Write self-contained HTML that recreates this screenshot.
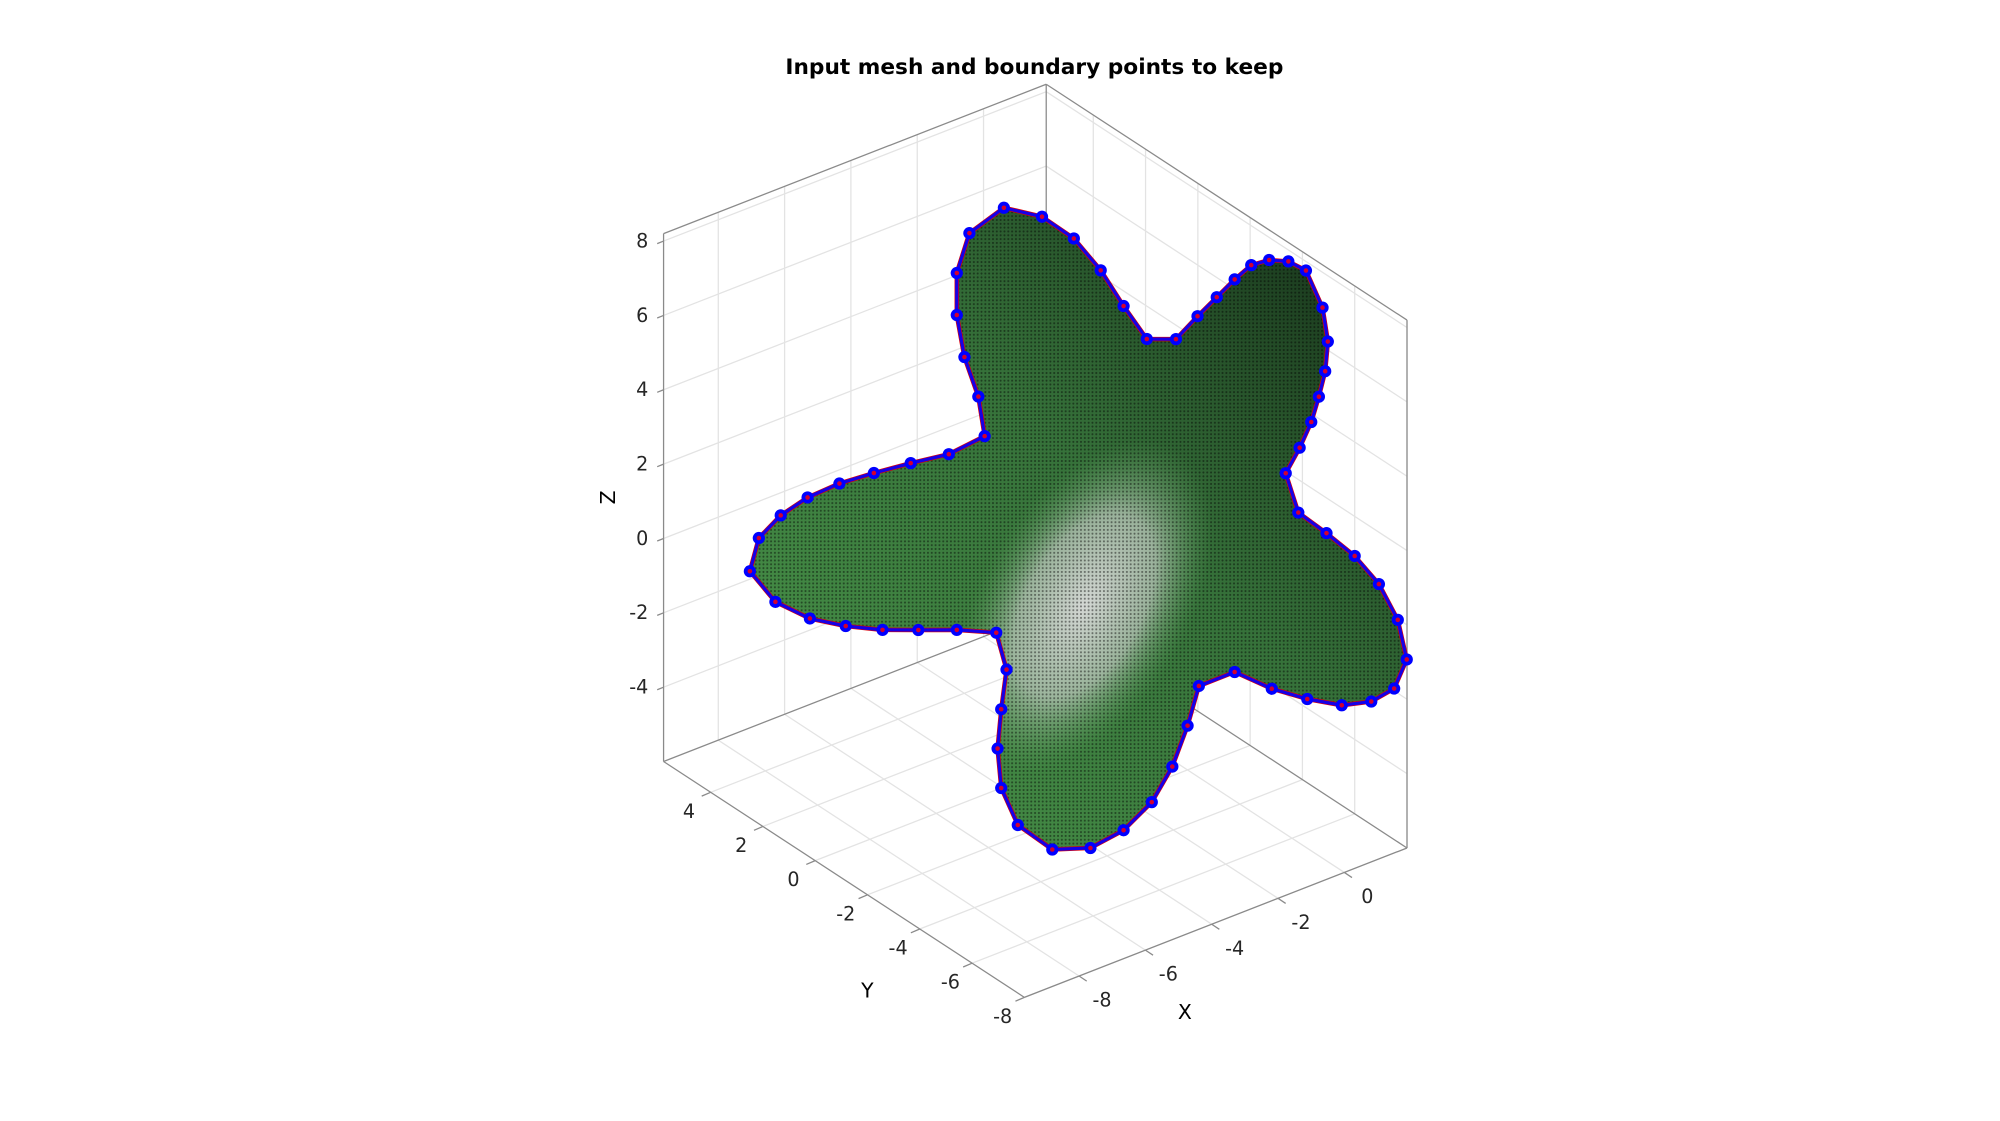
<!DOCTYPE html>
<html><head><meta charset="utf-8"><style>
html,body{margin:0;padding:0;background:#fff;}
svg{display:block;font-family:"DejaVu Sans","Liberation Sans",sans-serif;}
</style></head><body>
<svg id="chart" width="2000" height="1121" viewBox="0 0 1568 879" xmlns="http://www.w3.org/2000/svg">
<defs>
<linearGradient id="gfill" x1="1" y1="0" x2="0" y2="1">
<stop offset="0" stop-color="#132a16"/><stop offset="0.45" stop-color="#36723a"/><stop offset="1" stop-color="#4a964a"/>
</linearGradient>
<radialGradient id="gwhite" cx="850" cy="475" r="110" gradientUnits="userSpaceOnUse" gradientTransform="translate(850 475) rotate(30) scale(0.75 1.3) translate(-850 -475)">
<stop offset="0" stop-color="#dcdcdc" stop-opacity="0.95"/><stop offset="0.55" stop-color="#c4ccc4" stop-opacity="0.7"/><stop offset="1" stop-color="#5a9a5a" stop-opacity="0"/>
</radialGradient>
<pattern id="mesh" width="3" height="3" patternUnits="userSpaceOnUse"><circle cx="1.5" cy="1.5" r="0.8" fill="#000" fill-opacity="0.45"/></pattern>
</defs>
<g id="grid"></g><g id="box"></g><g id="shape"></g><g id="ticks"></g>
<text x="811" y="58" text-anchor="middle" font-size="17" font-weight="bold">Input mesh and boundary points to keep</text>
<text x="482" y="390" font-size="16" text-anchor="middle" transform="rotate(-90 482 390)">Z</text>
<text x="680" y="782" font-size="16" text-anchor="middle">Y</text>
<text x="929" y="799" font-size="16" text-anchor="middle">X</text>
</svg>
<script>
const xTicks=[-8,-6,-4,-2,0];
const yTicks=[4,2,0,-2,-4,-6,-8];
const zTicks=[8,6,4,2,0,-2,-4];
const xLim=[-9.65,1.89], yLim=[-8,5.8], zLim=[-6,8.2];
// boundary points (X,Z) at Y=0
const bndX=[-3.96,-2.81,-1.85,-1.04,-0.35,0.35,1.23,1.88,2.46,3.0,3.5,4.04,4.62,5.15,5.65,5.81,5.73,5.54,5.31,4.96,4.54,4.92,5.77,6.62,7.35,7.92,8.19,7.81,7.12,6.23,5.19,4.12,3.0,1.92,1.58,1.12,0.5,-0.35,-1.35,-2.5,-3.54,-4.04,-4.15,-4.04,-3.88,-4.19,-5.38,-6.54,-7.62,-8.73,-9.81,-10.85,-11.62,-11.35,-10.69,-9.88,-8.92,-7.88,-6.77,-5.62,-4.54,-4.73,-5.15,-5.38,-5.38,-5.0];
const bndZ=[9.58,8.94,8.02,6.88,5.68,4.55,4.24,4.63,4.94,5.23,5.44,5.39,5.15,4.72,3.55,2.58,1.81,1.19,0.59,0.02,-0.52,-1.71,-2.56,-3.47,-4.48,-5.64,-6.80,-7.45,-7.56,-7.35,-6.82,-6.17,-5.33,-5.33,-6.28,-7.22,-7.96,-8.42,-8.55,-8.19,-7.17,-6.0,-4.9,-3.88,-2.87,-1.77,-1.28,-0.88,-0.5,-0.01,0.57,1.38,2.47,3.27,3.65,3.85,3.89,3.81,3.69,3.53,3.64,4.77,5.98,7.19,8.32,9.26];
const NS='http://www.w3.org/2000/svg';
function P(X,Y,Z){return [890+26*X-20.5*Y, 402-10.15*X-13.4*Y-29.15*Z];}
function mk(tag,parent,attrs){const e=document.createElementNS(NS,tag);for(const k in attrs)e.setAttribute(k,attrs[k]);parent.appendChild(e);return e;}
function line(g,a,b,col,w){return mk('line',g,{x1:a[0],y1:a[1],x2:b[0],y2:b[1],stroke:col,'stroke-width':w});}
const grid=document.getElementById('grid'),box=document.getElementById('box'),tk=document.getElementById('ticks'),sh=document.getElementById('shape');
const gc='#e3e3e3';
xTicks.forEach(x=>{
 let l=line(grid,P(x,yLim[0],zLim[0]),P(x,yLim[1],zLim[0]),gc,1);
 
 
 l=line(grid,P(x,yLim[1],zLim[0]),P(x,yLim[1],zLim[1]),gc,1);
 
 
});
yTicks.forEach(y=>{
 let l=line(grid,P(xLim[0],y,zLim[0]),P(xLim[1],y,zLim[0]),gc,1);
 
 
 l=line(grid,P(xLim[1],y,zLim[0]),P(xLim[1],y,zLim[1]),gc,1);
 
 
});
zTicks.forEach(z=>{
 let l=line(grid,P(xLim[0],yLim[1],z),P(xLim[1],yLim[1],z),gc,1);
 
 
 l=line(grid,P(xLim[1],yLim[1],z),P(xLim[1],yLim[0],z),gc,1);
 
 
});
const bc='#8a8a8a';
[[[0,1,0],[0,1,1]],[[0,1,1],[1,1,1]],[[1,1,1],[1,0,1]],[[1,0,0],[1,0,1]],[[1,1,0],[1,1,1]],[[0,1,0],[0,0,0]],[[0,0,0],[1,0,0]],[[0,1,0],[1,1,0]],[[1,1,0],[1,0,0]]].forEach(e=>{
 const a=P(xLim[e[0][0]],yLim[e[0][1]],zLim[e[0][2]]),b=P(xLim[e[1][0]],yLim[e[1][1]],zLim[e[1][2]]);
 const l=line(box,a,b,bc,1);
 
 
});
zTicks.forEach(z=>{
 const p=P(xLim[0],yLim[1],z);
 line(tk,p,[p[0]-5,p[1]+2],bc,1);
 const t=mk('text',tk,{x:p[0]-12,y:p[1]+5,'font-size':15,'text-anchor':'end',fill:'#262626'});
 t.textContent=z;
 
 
});
yTicks.forEach(y=>{
 const p=P(xLim[0],y,zLim[0]);
 line(tk,p,[p[0]-7,p[1]+3],bc,1);
 const t=mk('text',tk,{x:p[0]-17,y:p[1]+20,'font-size':15,'text-anchor':'middle',fill:'#262626'});
 t.textContent=y;
 
 
});
xTicks.forEach(x=>{
 const p=P(x,yLim[0],zLim[0]);
 line(tk,p,[p[0]+6,p[1]+4],bc,1);
 const t=mk('text',tk,{x:p[0]+18,y:p[1]+24,'font-size':15,'text-anchor':'middle',fill:'#262626'});
 t.textContent=x;
 
 
});
const pts=bndX.map((x,i)=>P(x,0,bndZ[i]));
const ptsStr=pts.map(p=>p[0].toFixed(1)+','+p[1].toFixed(1)).join(' ');
let e=mk('polygon',sh,{points:ptsStr,fill:'url(#gfill)'});


e=mk('polygon',sh,{points:ptsStr,fill:'url(#gwhite)'});


e=mk('polygon',sh,{points:ptsStr,fill:'url(#mesh)'});


e=mk('polygon',sh,{points:ptsStr,fill:'none',stroke:'#e00000','stroke-width':3.5,'stroke-linejoin':'round'});


e=mk('polygon',sh,{points:ptsStr,fill:'none',stroke:'#0000ff','stroke-width':2.5,'stroke-linejoin':'round','stroke-opacity':0.9});


pts.forEach(p=>{
 const c=mk('circle',sh,{cx:p[0],cy:p[1],r:4.8,fill:'#0000ff'});
 
 
 const d=mk('circle',sh,{cx:p[0],cy:p[1],r:1.8,fill:'#d00030'});
 
 
});
</script>
</body></html>
